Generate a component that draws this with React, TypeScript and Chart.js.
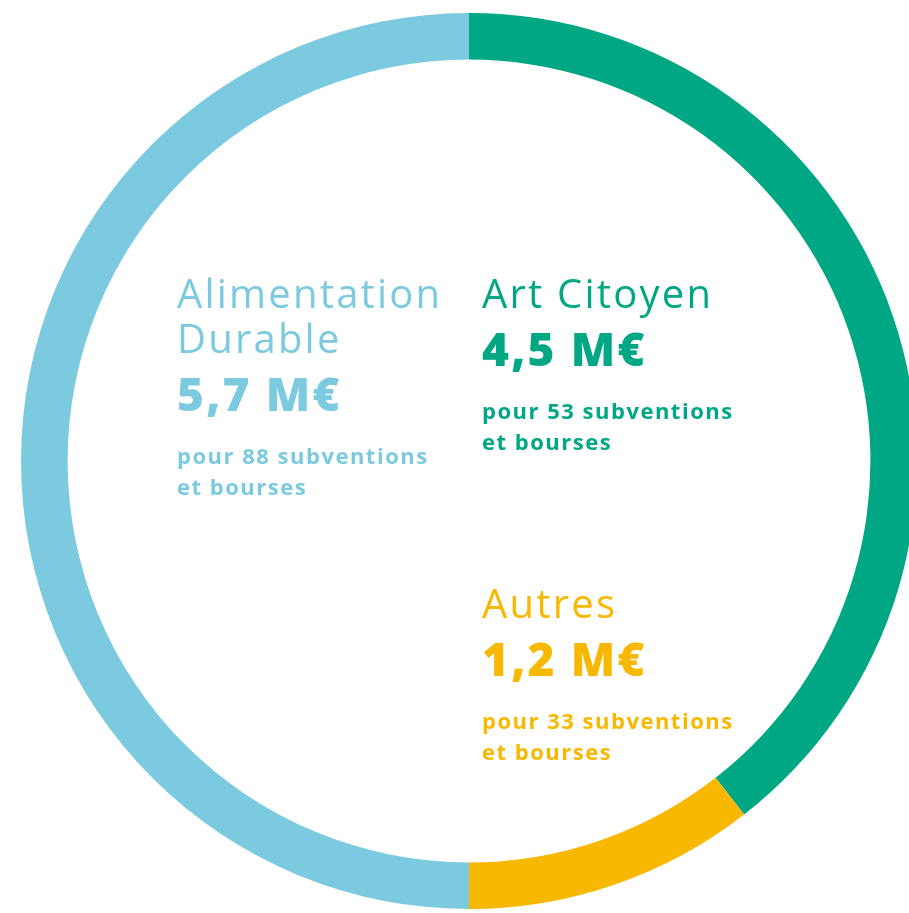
import React, { useEffect, useRef } from "react";
import { Chart, registerables } from "chart.js";

Chart.register(...registerables);

const categories = ["Art Citoyen", "Autres", "Alimentation Durable"];
const amounts = [4.5, 1.2, 5.7];
const grantCounts = [53, 33, 88];
const colors = ["#00A784", "#F9B800", "#7BCADF"];
const titleLines = [["Art Citoyen"], ["Autres"], ["Alimentation", "Durable"]];

const FONT = "'Open Sans', Lato, sans-serif";

function fmt(v: number) {
  return v.toFixed(1).replace(".", ",") + " M€";
}

// label blocks: left x and first title baseline (layout only)
const blockPos = [
  { x: 482, y: 309 },
  { x: 482, y: 619 },
  { x: 177, y: 309 },
];

export default function App() {
  const ref = useRef<HTMLCanvasElement | null>(null);
  useEffect(() => {
    document.body.style.margin = "0";
    const ctx = ref.current!.getContext("2d")!;
    const chart = new Chart(ctx, {
      type: "doughnut",
      data: {
        labels: categories,
        datasets: [
          {
            data: amounts,
            backgroundColor: colors,
            borderWidth: 0,
          },
        ],
      },
      options: {
        responsive: false,
        animation: false,
        cutout: "89.6%",
        layout: { padding: 12 },
        plugins: { legend: { display: false }, tooltip: { enabled: false } },
      },
    });
    return () => chart.destroy();
  }, []);

  const ascent = 0.988;
  const textAt = (x: number, baseline: number, size: number, weight: number, color: string, text: string, ls = 0, key?: string) => (
    <div
      key={key}
      style={{
        position: "absolute",
        left: x,
        top: baseline - ascent * size,
        fontFamily: FONT,
        fontSize: size,
        fontWeight: weight,
        lineHeight: 1.2,
        color,
        whiteSpace: "nowrap",
        letterSpacing: ls,
      }}
    >
      {text}
    </div>
  );

  return (
    <div style={{ position: "fixed", left: 0, top: 0, width: 909, height: 913, overflow: "hidden", background: "#fff" }}>
      <canvas
        ref={ref}
        width={920}
        height={920}
        style={{ position: "absolute", left: 469 - 460, top: 461 - 460, width: 920, height: 920 }}
      />
      {categories.map((c, i) => {
        const p = blockPos[i];
        const lines = titleLines[i];
        const lastTitle = p.y + (lines.length - 1) * 45;
        return (
          <React.Fragment key={c}>
            {lines.map((l, j) => textAt(p.x, p.y + j * 45, 40, 400, colors[i], l, 2.2, c + j))}
            {textAt(p.x, lastTitle + 57, 46, 800, colors[i], fmt(amounts[i]), 2.2, c + "v")}
            {textAt(p.x, lastTitle + 110, 22, 700, colors[i], `pour ${grantCounts[i]} subventions`, 1.5, c + "s1")}
            {textAt(p.x, lastTitle + 141, 22, 700, colors[i], "et bourses", 1.5, c + "s2")}
          </React.Fragment>
        );
      })}
    </div>
  );
}
